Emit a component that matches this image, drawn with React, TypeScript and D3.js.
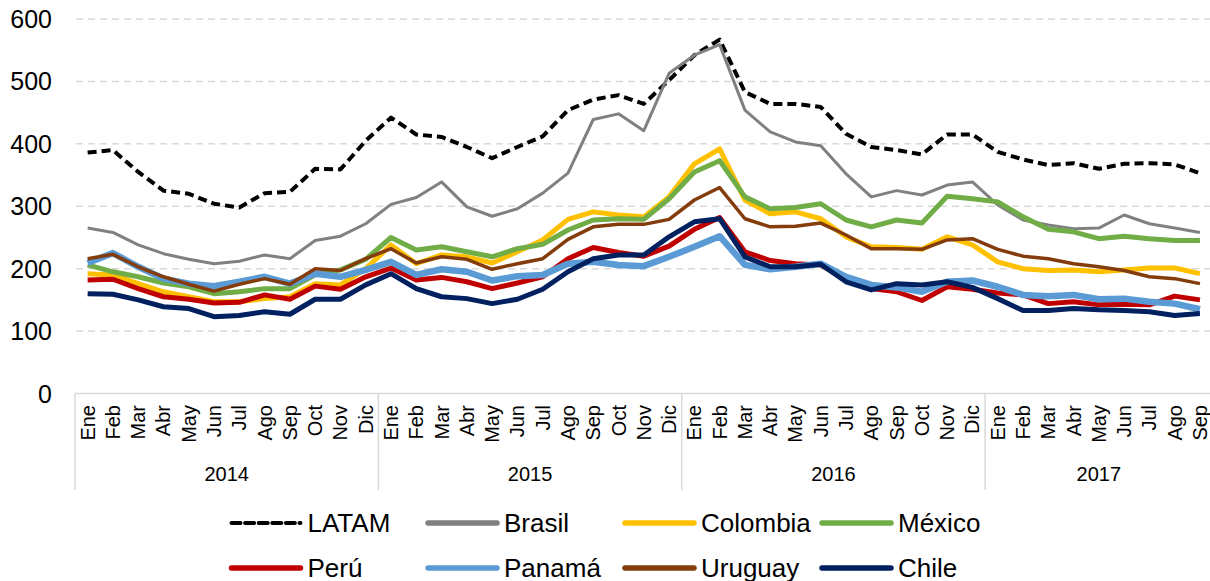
import React from 'react';
import * as d3 from 'd3';

const months = ['Ene', 'Feb', 'Mar', 'Abr', 'May', 'Jun', 'Jul', 'Ago', 'Sep', 'Oct', 'Nov', 'Dic'];
const years = ['2014', '2015', '2016', '2017'];
const yTicks = [0, 100, 200, 300, 400, 500, 600];

// Jan 2014 .. Sep 2017 (45 months)
const latam = [386, 390, 355, 325, 320, 304, 298, 321, 323, 360, 359, 405, 442, 415, 411, 395, 377, 395, 412, 454, 471, 478, 464, 502, 542, 567, 483, 464, 464, 459, 416, 395, 390, 383, 415, 415, 387, 375, 366, 369, 360, 368, 369, 367, 353];
const brasil = [265, 258, 238, 224, 215, 208, 212, 222, 216, 245, 252, 272, 303, 314, 339, 299, 284, 296, 321, 353, 439, 448, 421, 513, 542, 559, 454, 419, 403, 397, 352, 315, 325, 318, 334, 339, 302, 278, 270, 264, 265, 286, 272, 265, 258];
const colombia = [192, 190, 176, 163, 155, 147, 147, 152, 155, 176, 174, 200, 238, 208, 222, 219, 209, 227, 246, 279, 291, 286, 283, 315, 368, 392, 310, 288, 291, 280, 251, 235, 234, 231, 251, 238, 211, 200, 197, 198, 195, 198, 201, 201, 192];
const mexico = [206, 195, 187, 177, 171, 160, 163, 168, 168, 190, 198, 215, 250, 230, 235, 227, 219, 232, 239, 262, 278, 280, 279, 312, 355, 373, 315, 296, 298, 304, 278, 267, 278, 273, 316, 312, 307, 283, 263, 259, 248, 252, 248, 245, 245];
const peru = [182, 183, 168, 155, 151, 145, 146, 158, 151, 172, 167, 187, 201, 182, 186, 179, 168, 177, 187, 216, 234, 226, 220, 236, 263, 282, 227, 213, 208, 206, 182, 168, 163, 149, 171, 167, 161, 158, 144, 147, 142, 143, 142, 156, 150];
const panama = [209, 225, 203, 184, 176, 172, 179, 187, 176, 192, 187, 198, 211, 190, 199, 195, 181, 188, 190, 208, 211, 206, 204, 219, 235, 252, 206, 199, 203, 208, 187, 174, 170, 163, 179, 181, 171, 158, 156, 158, 151, 152, 147, 144, 135];
const uruguay = [216, 223, 203, 187, 175, 164, 175, 184, 175, 200, 197, 216, 232, 209, 219, 215, 199, 208, 216, 247, 267, 271, 271, 279, 310, 330, 280, 267, 268, 273, 254, 232, 232, 231, 246, 248, 231, 220, 216, 208, 203, 197, 187, 184, 176];
const chile = [160, 159, 150, 139, 136, 123, 125, 131, 127, 151, 151, 174, 192, 168, 155, 152, 144, 151, 167, 195, 216, 222, 222, 251, 275, 280, 219, 203, 203, 207, 179, 166, 176, 174, 179, 170, 152, 133, 133, 136, 134, 133, 131, 125, 128];

const series = [
  { name: 'LATAM', values: latam, color: '#000000', width: 4, dash: '9,5' },
  { name: 'Brasil', values: brasil, color: '#808080', width: 3 },
  { name: 'Colombia', values: colombia, color: '#FFC000', width: 5 },
  { name: 'México', values: mexico, color: '#70AD47', width: 5 },
  { name: 'Perú', values: peru, color: '#C00000', width: 5 },
  { name: 'Panamá', values: panama, color: '#5B9BD5', width: 6.5 },
  { name: 'Uruguay', values: uruguay, color: '#843C0C', width: 3.5 },
  { name: 'Chile', values: chile, color: '#002060', width: 5 },
];

const W = 1210;
const H = 581;
const font = 'Liberation Sans, Arial, sans-serif';

const App: React.FC = () => {
  const n = latam.length;
  const labels = d3.range(n).map(i => months[i % 12]);

  const x = d3.scaleBand<number>()
    .domain(d3.range(n))
    .range([75, 1212.6])
    .padding(0);
  const bw = x.bandwidth();
  const cx = (i: number) => (x(i) as number) + bw / 2;

  const y = d3.scaleLinear().domain([0, 600]).range([393.5, 19]);

  const line = d3.line<number>()
    .x((_, i) => cx(i))
    .y(d => y(d));

  const yearBounds = years.map((yr, k) => {
    const start = k * 12;
    const end = Math.min(start + 12, n);
    return { yr, x0: x(start) as number, x1: (x(end - 1) as number) + bw };
  });

  const legendX = [231.5, 428, 625, 822];
  const legendY = [523, 568];

  return (
    <div style={{ position: 'fixed', left: 0, top: 0 }}>
      <svg width={W} height={H} style={{ display: 'block', background: '#fff' }}>
        {/* grid */}
        {yTicks.filter(t => t > 0).map(t => (
          <line key={t} x1={76} x2={W} y1={y(t)} y2={y(t)}
            stroke="#d9d9d9" strokeWidth={1.5} strokeDasharray="7,5" />
        ))}
        {yTicks.map(t => (
          <text key={t} x={52} y={y(t)} textAnchor="end" dominantBaseline="central"
            fontFamily={font} fontSize={25} fill="#000">{t}</text>
        ))}

        {/* category axis */}
        <line x1={75} x2={W} y1={y(0)} y2={y(0)} stroke="#d9d9d9" strokeWidth={1.5} />
        {yearBounds.map(b => (
          <g key={b.yr}>
            <line x1={b.x0} x2={b.x0} y1={y(0)} y2={490} stroke="#d9d9d9" strokeWidth={1.5} />
            <text x={(b.x0 + b.x1) / 2} y={474} textAnchor="middle" dominantBaseline="central"
              fontFamily={font} fontSize={20} fill="#000">{b.yr}</text>
          </g>
        ))}
        {labels.map((m, i) => (
          <text key={i} transform={`translate(${cx(i) + 7},405) rotate(-90)`} textAnchor="end"
            fontFamily={font} fontSize={20} fill="#000">{m}</text>
        ))}

        {/* series */}
        {series.map(s => (
          <path key={s.name} d={line(s.values) || ''} fill="none" stroke={s.color}
            strokeWidth={s.width} strokeDasharray={s.dash} strokeLinejoin="round" />
        ))}

        {/* legend */}
        {series.map((s, k) => {
          const lx = legendX[k % 4];
          const ly = legendY[Math.floor(k / 4)];
          return (
            <g key={s.name}>
              <line x1={lx} x2={lx + 69} y1={ly} y2={ly} stroke={s.color}
                strokeWidth={s.dash ? 4 : 5.5} strokeDasharray={s.dash ? '9,4.6' : undefined}
                strokeLinecap="round" />
              <text x={lx + 76} y={ly} dominantBaseline="central"
                fontFamily={font} fontSize={26} fill="#000">{s.name}</text>
            </g>
          );
        })}
      </svg>
    </div>
  );
};

export default App;
